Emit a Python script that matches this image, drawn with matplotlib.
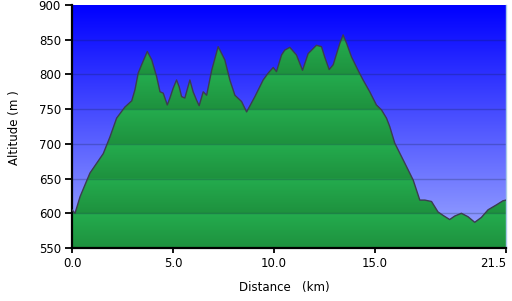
import numpy as np
import matplotlib
matplotlib.use("Agg")
import matplotlib.pyplot as plt
from matplotlib.patches import Polygon

##########################################
# Profile (km, m)
dist_km = [0.0, 0.15, 0.40, 0.89, 1.22, 1.55, 1.88, 2.21, 2.62, 2.96, 3.12, 3.28,
           3.45, 3.73, 3.95, 4.19, 4.36, 4.52, 4.72, 4.85, 5.01, 5.18, 5.31, 5.43,
           5.59, 5.84, 6.00, 6.17, 6.30, 6.50, 6.67, 6.92, 7.24, 7.57, 7.82, 8.07,
           8.40, 8.65, 9.06, 9.47, 9.72, 9.97, 10.13, 10.38, 10.54, 10.79, 11.12,
           11.42, 11.70, 12.11, 12.36, 12.52, 12.74, 12.94, 13.27, 13.43, 13.60,
           13.85, 14.17, 14.42, 14.75, 15.08, 15.33, 15.58, 15.74, 15.99, 16.49,
           16.90, 17.23, 17.48, 17.81, 18.13, 18.38, 18.71, 18.96, 19.29, 19.62,
           19.95, 20.28, 20.61, 21.02, 21.35, 21.50]
alt_m = [605, 600, 624, 658, 672, 686, 710, 737, 753, 762, 778, 802,
         814, 833, 821, 797, 775, 773, 756, 766, 780, 792, 782, 768,
         766, 792, 775, 763, 755, 775, 770, 806, 840, 821, 792, 770,
         761, 746, 768, 792, 802, 810, 804, 828, 835, 839, 828,
         806, 830, 842, 840, 825, 807, 814, 845, 857, 845,
         825, 806, 792, 775, 756, 749, 737, 725, 701, 672,
         648, 619, 619, 617, 602, 597, 591, 596, 600, 595,
         587, 594, 605, 612, 618, 619]

x_ticks = [0.0, 5.0, 10.0, 15.0, 21.5]
x_labels = ["0.0", "5.0", "10.0", "15.0", "21.5"]
y_ticks = [550, 600, 650, 700, 750, 800, 850, 900]

X_MIN, X_MAX = 0.0, 21.5
Y_MIN, Y_MAX = 550, 900

fig = plt.figure(figsize=(5.12, 3.01), dpi=100)
ax = fig.add_axes([72 / 512, 1 - 248 / 301, 434 / 512, 243 / 301])

# Sky: blue gradient, pure blue at the top, paler toward the bottom
t = np.linspace(0, 1, 256)[:, None]  # 0 = top, 1 = bottom
top = np.array([0, 0, 255]) / 255
bot = np.array([160, 172, 255]) / 255
sky = top + (bot - top) * t[..., None]
sky = np.repeat(sky, 2, axis=1)
ax.imshow(sky, extent=[X_MIN, X_MAX, Y_MIN, Y_MAX], aspect="auto", zorder=0)

# Ground: green, a soft gradient on each 50 m step
yy = np.linspace(Y_MAX, Y_MIN, 700)
frac = ((Y_MAX - yy) % 50) / 50  # 0 at top of band, 1 at bottom
light = np.array([36, 172, 78]) / 255
dark = np.array([30, 145, 62]) / 255
green = light + (dark - light) * frac[:, None]
green = np.repeat(green[:, None, :], 2, axis=1)
img = ax.imshow(green, extent=[X_MIN, X_MAX, Y_MIN, Y_MAX], aspect="auto", zorder=1)
verts = list(zip(dist_km, alt_m)) + [(dist_km[-1], Y_MIN), (dist_km[0], Y_MIN)]
clip = Polygon(verts, closed=True, facecolor="none", edgecolor="none")
ax.add_patch(clip)
img.set_clip_path(clip)

ax.plot(dist_km, alt_m, color="#3c3c50", lw=1.0, zorder=3)

for y in y_ticks[1:-1]:
    ax.axhline(y, color="#102040", alpha=0.25, lw=1.0, zorder=2)

ax.set_xlim(X_MIN, X_MAX)
ax.set_ylim(Y_MIN, Y_MAX)
ax.set_xticks(x_ticks)
ax.set_xticklabels(x_labels)
ax.set_yticks(y_ticks)
ax.get_xticklabels()[-1].set_horizontalalignment("right")

for side in ["left", "bottom"]:
    ax.spines[side].set_color("black")
    ax.spines[side].set_linewidth(1.6)
ax.spines["top"].set_visible(False)
ax.spines["right"].set_color("#a8c8e8")
ax.spines["right"].set_linewidth(1.0)

ax.tick_params(axis="y", direction="out", length=5, width=1.3, pad=3, labelsize=8.5)
ax.tick_params(axis="x", direction="out", length=3.5, width=1.3, pad=3, labelsize=8.5)

fig.text(284 / 512, 1 - 287 / 301, "Distance   (km)", ha="center", va="center", fontsize=8.5)
fig.text(15 / 512, 1 - 128 / 301, "Altitude (m )", ha="center", va="center",
         rotation=90, fontsize=8.5)

fig.savefig("out.png", dpi=100)
